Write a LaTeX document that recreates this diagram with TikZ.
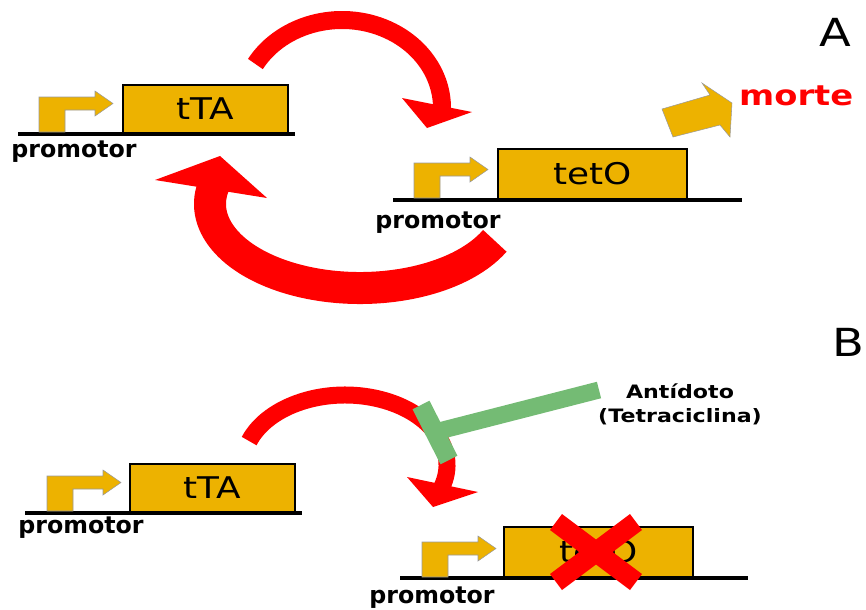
\documentclass[tikz,border=0pt]{standalone}
\usepackage{fontspec}
\setmainfont{DejaVu Sans}
\newfontfamily\widefont[FakeStretch=1.2]{DejaVu Sans}
\usetikzlibrary{positioning, calc}

\definecolor{geneyellow}{RGB}{237,178,0}
\definecolor{arrowred}{RGB}{255,0,0}
\definecolor{antigreen}{RGB}{116,187,116}

\begin{document}
\begin{tikzpicture} [
    x=0.02cm, y=-0.02cm,
    gene/.style={rectangle, draw=black, line width=1.2pt, fill=geneyellow, minimum width=3.3cm, minimum height=0.96cm, inner sep=0pt, anchor=south west, font=\widefont\fontsize{17}{20}\selectfont},
    dna/.style={black, line width=2.4pt},
    promlabel/.style={anchor=base, font=\bfseries\fontsize{13.5}{16}\selectfont},
    feedback/.style={draw=arrowred, line width=0.36cm},
    arrowhead/.style={fill=arrowred, draw=none},
    blocker/.style={draw=antigreen, line width=0.34cm},
    cross/.style={draw=arrowred, line width=0.4cm},
    panel/.style={font=\widefont\fontsize{22}{26}\selectfont},
    promarrow/.pic={
        \filldraw[fill=geneyellow, draw=black!40, line width=0.3pt] (0,0) -- (0,-35) -- (56,-35) -- (56,-41) -- (74,-28.5) -- (56,-16) -- (56,-22) -- (26,-22) -- (26,0) -- cycle;
    }
]
\useasboundingbox (0,0) rectangle (866,609);

% Panel A: genes
\draw[dna] (18,134) -- (295,134);
\pic at (39,132) {promarrow};
\node[gene] (ttaA) at (122,134) {tTA};
\node[promlabel] (promA1) at (74,157) {promotor};

\draw[dna] (393,200) -- (742,200);
\pic at (414,198) {promarrow};
\node[gene, minimum width=3.78cm, minimum height=1cm] (tetoA) at (497,200) {tetO};
\node[promlabel] (promA2) at (438,228) {promotor};

% Panel A: feedback loop
\draw[feedback] ([shift={(210:100 and 88)}]342,108) arc[start angle=210, end angle=362, x radius=100, y radius=88];
\fill[arrowhead] (402,98) -- (472,112) -- (427,128) -- cycle;
\draw[feedback, line width=0.64cm] ([shift={(26:150 and 84)}]360,204) arc[start angle=26, end angle=194, x radius=150, y radius=84];
\fill[arrowhead] (155,180) -- (220,156) -- (267,198) -- cycle;

% Panel A: outcome
\filldraw[fill=geneyellow, draw=black!40, line width=0.3pt] (662,109) -- (710,95) -- (702,83) -- (732,103) -- (730,137) -- (720,125) -- (673,137) -- cycle;
\node[anchor=west, text=arrowred, font=\widefont\bfseries\fontsize{16}{19}\selectfont] (morte) at (733,96) {morte};
\node[panel] (labelA) at (835,32) {A};

% Panel B: genes
\draw[dna] (25,513) -- (302,513);
\pic at (47,511) {promarrow};
\node[gene] (ttaB) at (129,513) {tTA};
\node[promlabel] (promB1) at (81,533) {promotor};

\draw[dna] (400,578) -- (748,578);
\pic at (422,577) {promarrow};
\node[gene, minimum width=3.78cm, minimum height=1cm] (tetoB) at (503,578) {tetO};
\node[promlabel] (promB2) at (432,603) {promotor};

% Panel B: blocked activation
\draw[feedback, line width=0.34cm] ([shift={(200:102 and 70)}]345,465) arc[start angle=200, end angle=378, x radius=102, y radius=70];
\fill[arrowhead] (407,477) -- (478,492) -- (433,507) -- cycle;

\node[align=center, font=\widefont\bfseries\fontsize{10.5}{13.7}\selectfont] (antidoto) at (680,404) {Antídoto\\(Tetraciclina)};
\coordinate (tfree) at (599,390);
\coordinate (tjoin) at (435,432);
\draw[blocker] (tfree) -- (tjoin);
\draw[blocker, line width=0.38cm] (421,405) -- (449,460);

\draw[cross] (556,522) -- (636,582);
\draw[cross] (636,522) -- (556,582);
\node[panel] (labelB) at (848,342) {B};

\end{tikzpicture}
\end{document}
